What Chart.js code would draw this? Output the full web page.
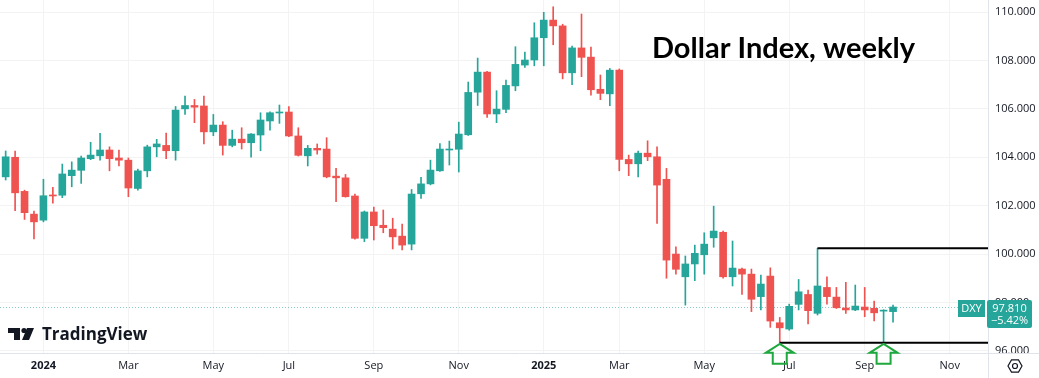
<!DOCTYPE html>
<html>
<head>
<meta charset="utf-8">
<script src="https://cdn.jsdelivr.net/npm/chart.js@4.4.1/dist/chart.umd.min.js"></script>
<style>
  html, body { margin: 0; padding: 0; background: #fff; }
  #wrap { width: 1039px; height: 378px; }
</style>
</head>
<body>
<div id="wrap"><canvas id="chart" width="1039" height="378"></canvas></div>
<script>
// weekly DXY candles, first week starts Mon 4 Dec 2023
const firstWeek = '2023-12-04';

const open = [
  103.19, 104.00, 102.59, 101.65, 101.40, 102.43, 102.43, 103.24, 103.46, 103.94,
  104.06, 104.30, 103.97, 103.88, 102.71, 103.44, 104.43, 104.49, 104.27, 106.00,
  106.14, 106.12, 105.05, 105.33, 104.49, 104.75, 104.60, 104.92, 105.50, 105.83,
  105.87, 104.88, 104.06, 104.37, 104.34, 103.22, 103.15, 102.40, 100.65, 101.74,
  101.19, 101.03, 100.74, 100.41, 102.49, 102.90, 103.44, 104.30, 104.33, 104.93,
  106.69, 107.52, 105.79, 105.98, 106.95, 107.81, 108.02, 108.94, 109.67, 109.43,
  107.49, 108.52, 108.14, 106.81, 106.62, 107.60, 103.91, 103.73, 104.17, 104.02,
  103.09, 100.00, 99.06, 99.59, 99.97, 100.67, 100.90, 99.06, 99.38, 99.17,
  98.24, 99.09, 97.16, 96.90, 97.92, 98.33, 97.55, 98.62, 98.22, 97.77,
  97.69, 97.81, 97.76, 97.64, 97.62
];
const high = [
  104.26, 104.26, 102.64, 101.78, 103.09, 102.76, 103.72, 103.81, 104.05, 104.62,
  104.99, 104.43, 104.30, 103.97, 103.51, 104.50, 104.74, 105.00, 106.10, 106.53,
  106.39, 106.53, 105.77, 105.47, 105.12, 105.22, 104.98, 105.84, 105.88, 106.16,
  106.09, 105.22, 104.49, 104.55, 104.81, 103.54, 103.29, 102.48, 101.78, 101.94,
  101.82, 101.48, 101.24, 102.67, 103.17, 103.88, 104.57, 104.67, 105.45, 107.11,
  108.10, 107.55, 106.75, 107.19, 108.57, 108.35, 109.56, 109.99, 110.22, 109.50,
  108.60, 109.92, 108.55, 107.40, 107.67, 107.65, 104.09, 104.26, 104.68, 104.43,
  103.54, 100.30, 99.92, 100.37, 100.88, 101.98, 100.95, 100.54, 99.42, 99.38,
  99.13, 99.43, 97.38, 97.93, 98.95, 98.51, 100.24, 99.06, 98.62, 98.83,
  98.72, 98.62, 98.06, 97.70, 97.89
];
const low = [
  103.06, 101.79, 101.43, 100.63, 101.33, 102.10, 102.33, 102.78, 102.92, 103.90,
  103.88, 103.44, 103.64, 102.37, 102.64, 103.19, 104.02, 103.94, 103.88, 105.77,
  105.43, 104.55, 104.89, 104.09, 104.43, 104.34, 104.00, 104.27, 105.12, 105.40,
  104.85, 104.05, 103.64, 104.13, 103.15, 102.16, 102.35, 100.61, 100.51, 100.58,
  100.88, 100.21, 100.17, 100.17, 102.30, 102.86, 103.42, 103.68, 103.39, 104.90,
  106.14, 105.65, 105.43, 105.84, 106.75, 107.71, 107.78, 107.78, 108.65, 107.24,
  107.00, 107.33, 106.57, 106.38, 106.13, 103.44, 103.24, 103.19, 103.86, 101.27,
  99.00, 99.17, 97.89, 98.90, 99.17, 100.28, 99.00, 98.68, 98.33, 97.62,
  97.69, 96.97, 96.33, 96.85, 97.69, 97.11, 97.48, 97.93, 97.75, 97.55,
  97.66, 97.41, 97.24, 96.30, 97.18
];
const close = [
  104.02, 102.53, 101.71, 101.33, 102.41, 102.40, 103.31, 103.47, 103.97, 104.09,
  104.30, 103.94, 103.88, 102.73, 103.44, 104.43, 104.55, 104.27, 105.95, 106.14,
  106.07, 105.05, 105.33, 104.49, 104.75, 104.60, 104.96, 105.54, 105.84, 105.86,
  104.88, 104.08, 104.37, 104.30, 103.19, 103.15, 102.37, 100.65, 101.74, 101.17,
  101.09, 100.71, 100.37, 102.48, 102.90, 103.47, 104.34, 104.33, 104.96, 106.68,
  107.52, 105.79, 105.99, 106.97, 107.84, 108.02, 108.94, 109.67, 109.43, 107.49,
  108.52, 108.13, 106.79, 106.64, 107.60, 103.91, 103.73, 104.17, 104.02, 102.85,
  99.75, 99.37, 99.59, 100.03, 100.41, 100.95, 99.06, 99.42, 99.17, 98.13,
  98.76, 97.23, 96.95, 97.84, 98.44, 97.66, 98.68, 98.24, 97.78, 97.69,
  97.85, 97.69, 97.57, 97.66, 97.81
];

const monthNames = ['Jan', 'Feb', 'Mar', 'Apr', 'May', 'Jun', 'Jul', 'Aug', 'Sep', 'Oct', 'Nov', 'Dec'];
const priceTicks = [96, 98, 100, 102, 104, 106, 108, 110];
const symbol = 'DXY';
const changeText = '\u22125.42%';
const titleText = 'Dollar Index, weekly';

// the two levels drawn on the chart: low of the week of 30 Jun, high of the week of 28 Jul
const supportWeek = 82;
const resistanceWeek = 86;
const touchWeeks = [82, 93];

const UP = '#26a69a';
const DOWN = '#ef5350';

// week dates for the time axis (runs a bit past the data, like the TV chart)
let weeks = [];
let d0 = new Date(firstWeek + 'T00:00:00Z');
for (let i = 0; i < 106; i++) {
  weeks.push(new Date(d0.getTime() + i * 7 * 86400000));
}
let tickIdx = [];
let tickLabels = [];
weeks.forEach((d, i) => {
  let m = d.getUTCMonth();
  if (d.getUTCDate() <= 7 && m % 2 === 0) {
    tickIdx.push(i);
    tickLabels.push(m === 0 ? String(d.getUTCFullYear()) : monthNames[m]);
  }
});

const colors = open.map((o, i) => close[i] >= o ? UP : DOWN);
const bodies = open.map((o, i) => ({ x: i, y: [o, close[i]] }));
const wicks = low.map((l, i) => ({ x: i, y: [l, high[i]] }));
const lastClose = close[close.length - 1];

// extra drawing: price line, levels, arrows, labels, logo
const overlay = {
  id: 'overlay',
  beforeDatasetsDraw(chart) {
    const { ctx, chartArea, scales } = chart;
    let y = Math.round(scales.y.getPixelForValue(lastClose)) + 0.5;
    ctx.save();
    ctx.strokeStyle = 'rgba(38,166,154,0.55)';
    ctx.lineWidth = 1;
    ctx.setLineDash([1, 2]);
    ctx.beginPath();
    ctx.moveTo(chartArea.left, y);
    ctx.lineTo(chartArea.right, y);
    ctx.stroke();
    ctx.restore();
  },
  afterDraw(chart) {
    const { ctx, chartArea, scales } = chart;
    const x = scales.x, y = scales.y;
    ctx.save();

    // support / resistance lines
    ctx.strokeStyle = '#000';
    ctx.lineWidth = 2;
    let ys = y.getPixelForValue(low[supportWeek]);
    let yr = y.getPixelForValue(high[resistanceWeek]);
    ctx.beginPath();
    ctx.moveTo(x.getPixelForValue(supportWeek), ys);
    ctx.lineTo(chartArea.right, ys);
    ctx.moveTo(x.getPixelForValue(resistanceWeek), yr);
    ctx.lineTo(chartArea.right, yr);
    ctx.stroke();

    // axis borders
    ctx.strokeStyle = '#e0e3eb';
    ctx.lineWidth = 1;
    ctx.beginPath();
    ctx.moveTo(0, chartArea.bottom + 0.5);
    ctx.lineTo(chart.width, chartArea.bottom + 0.5);
    ctx.moveTo(chartArea.right + 0.5, 0);
    ctx.lineTo(chartArea.right + 0.5, chart.height);
    ctx.stroke();

    // hide the cut part of the lowest price label
    ctx.fillStyle = '#fff';
    ctx.fillRect(chartArea.right + 1, chartArea.bottom + 1, chart.width - chartArea.right, chart.height);

    // green arrows under the two touches
    ctx.strokeStyle = '#1fa83d';
    ctx.lineWidth = 2;
    ctx.lineJoin = 'miter';
    touchWeeks.forEach(w => {
      let cx = x.getPixelForValue(w);
      let ty = ys + 1;
      ctx.beginPath();
      ctx.moveTo(cx, ty);
      ctx.lineTo(cx + 14, ty + 9);
      ctx.lineTo(cx + 7, ty + 9);
      ctx.lineTo(cx + 7, ty + 20);
      ctx.lineTo(cx - 7, ty + 20);
      ctx.lineTo(cx - 7, ty + 9);
      ctx.lineTo(cx - 14, ty + 9);
      ctx.closePath();
      ctx.stroke();
    });

    // title
    ctx.fillStyle = '#000';
    ctx.font = 'bold 29px Lato';
    ctx.textBaseline = 'alphabetic';
    ctx.textAlign = 'left';
    ctx.fillText(titleText, 652, 58);

    // TradingView logo
    ctx.fillStyle = '#131722';
    ctx.fillRect(8, 328, 12, 5);
    ctx.fillRect(14, 328, 6, 12);
    ctx.beginPath();
    ctx.arc(24, 330.5, 2.6, 0, Math.PI * 2);
    ctx.fill();
    ctx.beginPath();
    ctx.moveTo(27, 328);
    ctx.lineTo(34, 328);
    ctx.lineTo(29, 340);
    ctx.lineTo(22, 340);
    ctx.closePath();
    ctx.fill();
    ctx.font = 'bold 17px "Open Sans"';
    ctx.fillText('TradingView', 42, 340);

    // last price labels
    let py = Math.round(y.getPixelForValue(lastClose));
    ctx.fillStyle = UP;
    ctx.fillRect(958, py - 7, 27, 17);
    roundRect(ctx, 987, py - 7, 45, 28, 2);
    ctx.fill();
    ctx.fillStyle = '#fff';
    ctx.font = '11px "Open Sans"';
    ctx.textAlign = 'center';
    ctx.textBaseline = 'middle';
    ctx.fillText(symbol, 971.5, py + 1.5);
    ctx.fillText(lastClose.toFixed(3), 1009.5, py + 1.5);
    ctx.fillText(changeText, 1009.5, py + 14);

    // settings icon
    ctx.strokeStyle = '#131722';
    ctx.lineWidth = 1.2;
    ctx.beginPath();
    for (let k = 0; k < 6; k++) {
      let a = Math.PI / 3 * k;
      let px = 1015 + 7 * Math.cos(a), qy = 366 + 7 * Math.sin(a);
      if (k === 0) ctx.moveTo(px, qy); else ctx.lineTo(px, qy);
    }
    ctx.closePath();
    ctx.stroke();
    ctx.beginPath();
    ctx.arc(1015, 366, 2.5, 0, Math.PI * 2);
    ctx.stroke();

    ctx.restore();
  }
};

function roundRect(ctx, x, y, w, h, r) {
  ctx.beginPath();
  ctx.moveTo(x + r, y);
  ctx.lineTo(x + w - r, y);
  ctx.quadraticCurveTo(x + w, y, x + w, y + r);
  ctx.lineTo(x + w, y + h - r);
  ctx.quadraticCurveTo(x + w, y + h, x + w - r, y + h);
  ctx.lineTo(x + r, y + h);
  ctx.quadraticCurveTo(x, y + h, x, y + h - r);
  ctx.lineTo(x, y + r);
  ctx.quadraticCurveTo(x, y, x + r, y);
  ctx.closePath();
}

// no label padding around the plot, the plot fills the canvas
function noPad(s) {
  s.paddingTop = 0;
  s.paddingBottom = 0;
  s.paddingLeft = 0;
  s.paddingRight = 0;
}

new Chart(document.getElementById('chart'), {
  type: 'bar',
  data: {
    datasets: [{
      data: wicks,
      backgroundColor: colors,
      barThickness: 1,
      grouped: false,
      order: 2
    }, {
      data: bodies,
      backgroundColor: colors,
      barThickness: 7,
      minBarLength: 1,
      grouped: false,
      order: 1
    }]
  },
  options: {
    responsive: false,
    animation: false,
    layout: { padding: 0 },
    plugins: {
      legend: { display: false },
      tooltip: { enabled: false }
    },
    scales: {
      x: {
        type: 'linear',
        offset: false,
        min: -0.6,
        max: 104.06,
        afterBuildTicks: s => { s.ticks = tickIdx.map(v => ({ value: v })); },
        afterFit: s => { s.height = 25; noPad(s); },
        grid: { color: '#f3f3f3', drawTicks: false, offset: false },
        border: { display: false },
        ticks: {
          autoSkip: false,
          maxRotation: 0,
          padding: 6,
          color: '#131722',
          font: c => ({
            family: '"Open Sans"',
            size: 11,
            weight: /^\d+$/.test(tickLabels[c.index]) ? 'bold' : 'normal'
          }),
          callback: (v, i) => tickLabels[i]
        }
      },
      y: {
        position: 'right',
        min: 95.91,
        max: 110.5,
        afterBuildTicks: s => { s.ticks = priceTicks.map(v => ({ value: v })); },
        afterFit: s => { s.width = 51; noPad(s); },
        grid: { color: '#f3f3f3', drawTicks: false },
        border: { display: false },
        ticks: {
          padding: 7,
          color: '#131722',
          font: { family: '"Open Sans"', size: 11 },
          callback: v => v.toFixed(3)
        }
      }
    }
  },
  plugins: [overlay]
});
</script>
</body>
</html>
